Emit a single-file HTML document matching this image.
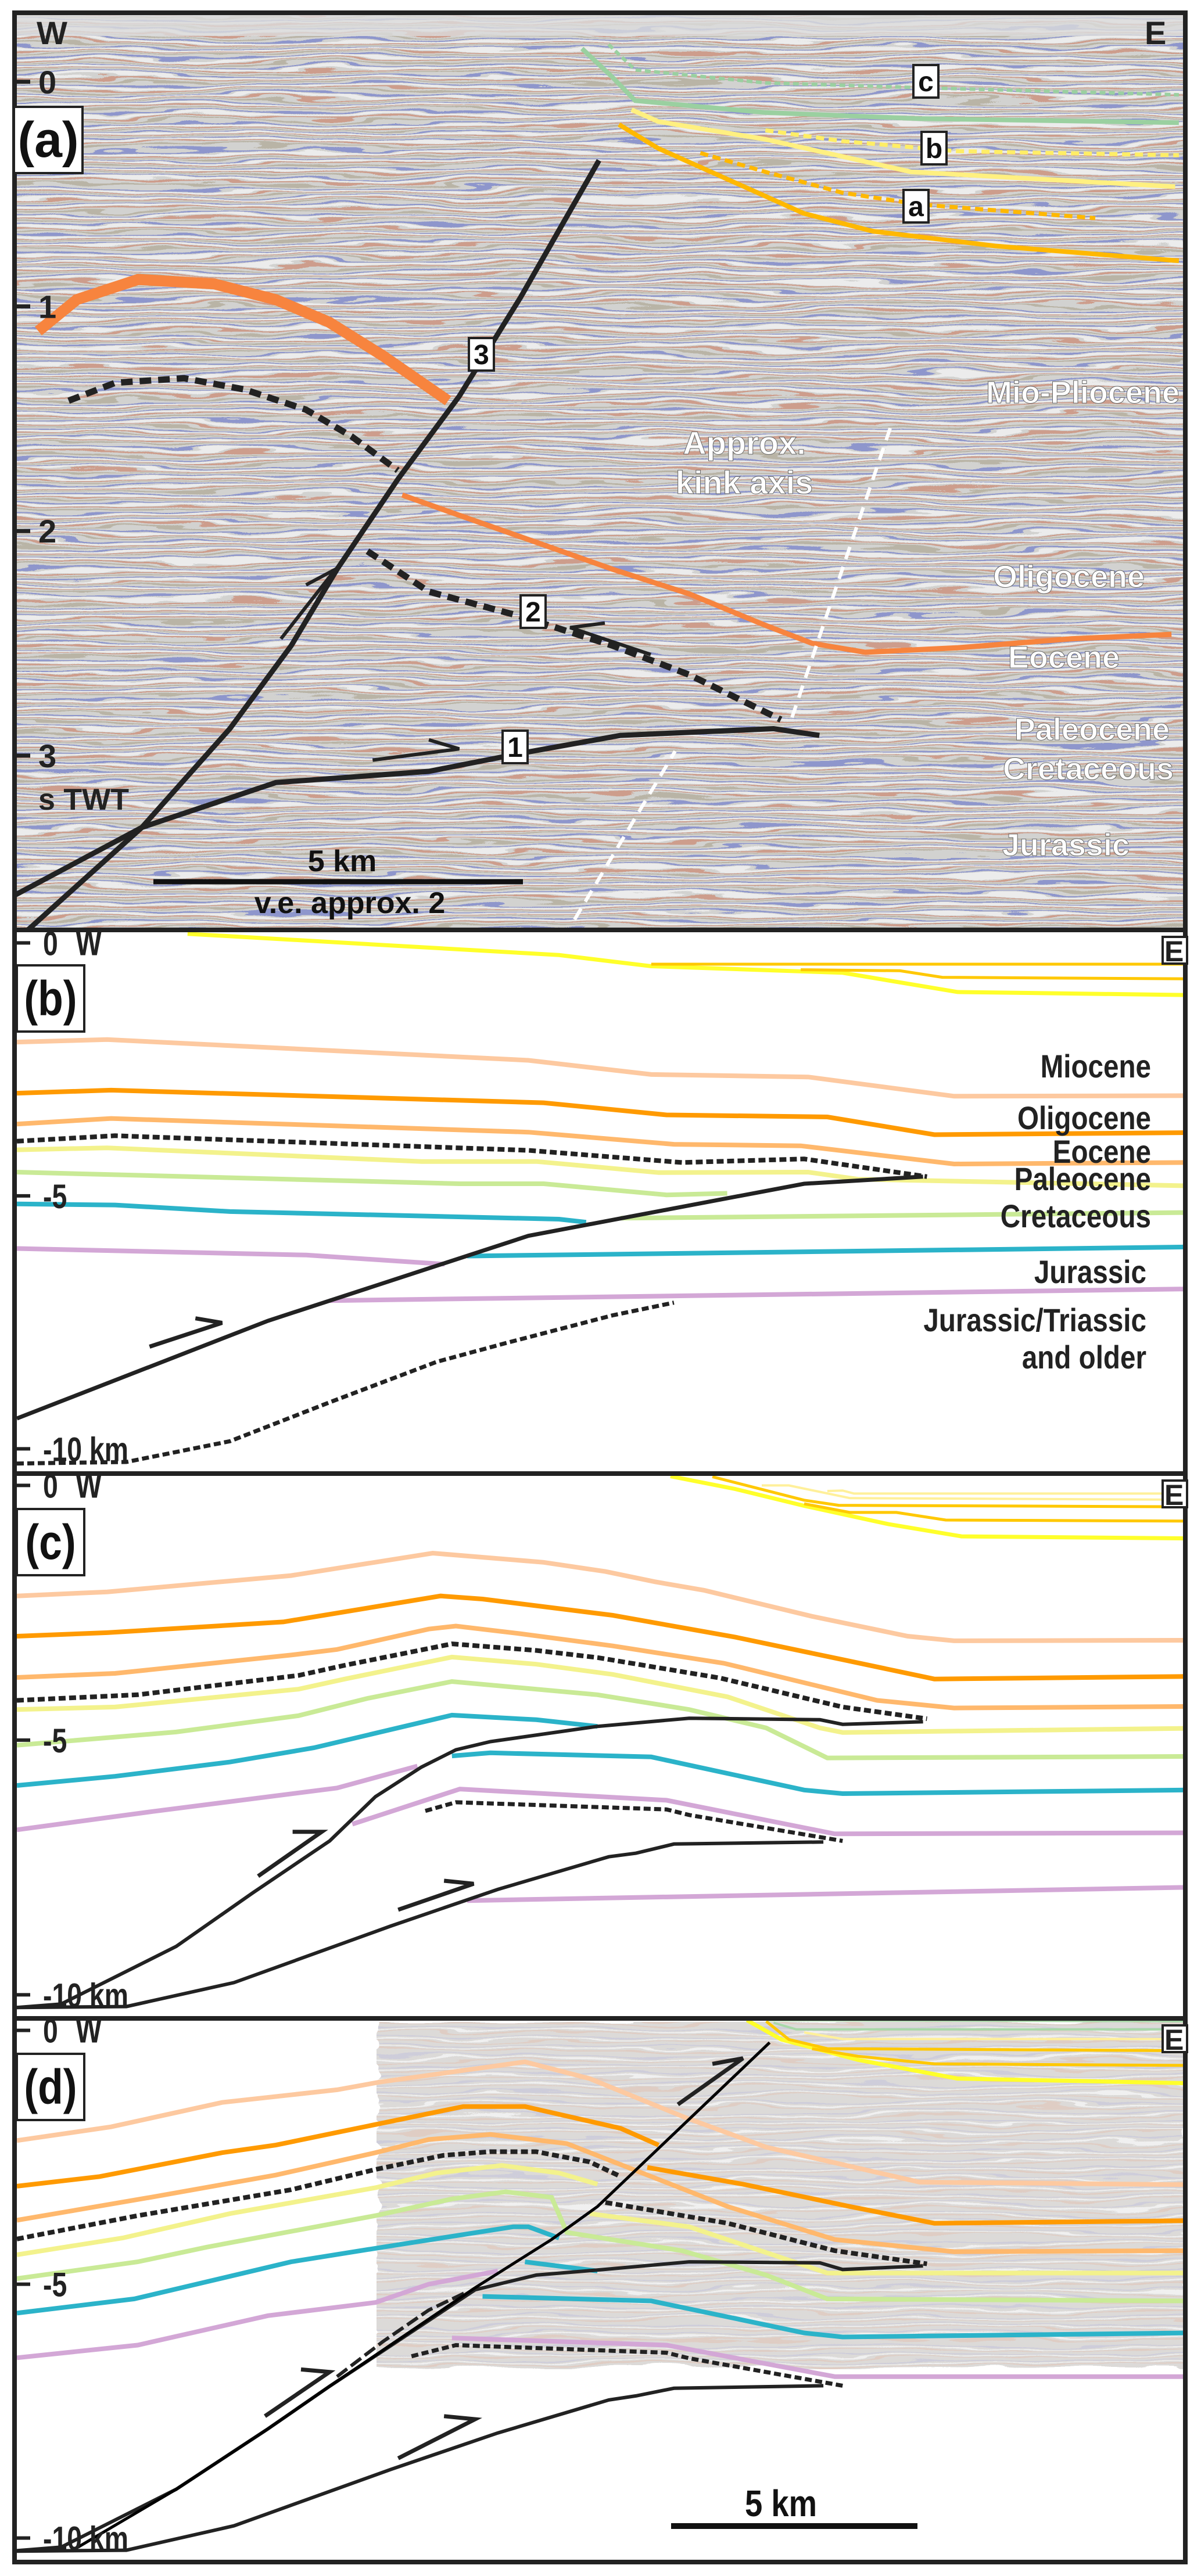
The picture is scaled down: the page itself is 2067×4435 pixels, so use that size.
<!DOCTYPE html>
<html><head><meta charset="utf-8"><style>
html,body{margin:0;padding:0;background:#fff}
svg{display:block}
text{font-family:"Liberation Sans",sans-serif;font-weight:bold}
</style></head><body>
<svg id="fig" width="2067" height="4435" viewBox="0 0 2067 4435" xmlns="http://www.w3.org/2000/svg">
<defs>
<pattern id="seis" width="80" height="16" patternUnits="userSpaceOnUse">
<rect width="80" height="16" fill="#d2d2d0"/>
<rect y="1" width="80" height="2" fill="#5564c8" opacity="0.55"/>
<rect y="4" width="80" height="3" fill="#ececec"/>
<rect y="8" width="80" height="2" fill="#c86848" opacity="0.5"/>
<rect y="12" width="80" height="2" fill="#8a7a58" opacity="0.35"/>
</pattern>
<pattern id="seis2" width="80" height="16" patternUnits="userSpaceOnUse">
<rect width="80" height="16" fill="#dcdad8"/>
<rect y="2" width="80" height="2" fill="#c0c0dc" opacity="0.5"/>
<rect y="6" width="80" height="2" fill="#f0f0f0"/>
<rect y="10" width="80" height="2" fill="#e2c0b0" opacity="0.5"/>
</pattern>
<filter id="wav" x="0" y="0" width="1" height="1">
<feTurbulence type="fractalNoise" baseFrequency="0.004 0.035" numOctaves="3" seed="4" result="n"/>
<feDisplacementMap in="SourceGraphic" in2="n" scale="28" xChannelSelector="R" yChannelSelector="G"/>
</filter>
<clipPath id="clipA"><rect x="25" y="22" width="2015" height="1579"/></clipPath>
</defs>
<g id="panelA" clip-path="url(#clipA)">
<rect x="0" y="0" width="2067" height="1620" fill="url(#seis)" filter="url(#wav)"/>
<rect x="25" y="22" width="2015" height="40" fill="#dcdcdc" opacity="0.8"/>
</g>
<rect x="648" y="3481" width="1392" height="598" fill="url(#seis2)" filter="url(#wav)"/>
<g id="marks"></g>
<g id="frame" fill="none" stroke="#222" stroke-width="8">
<rect x="25" y="22" width="2015" height="4389"/>
<line x1="25" y1="1601" x2="2040" y2="1601"/>
<line x1="25" y1="2537" x2="2040" y2="2537"/>
<line x1="25" y1="3475" x2="2040" y2="3475"/>
</g>
<g id="labels"></g>
</svg>
<script>
// ---------- Panel A data (x: km, y: s TWT) ----------
const aOrange1=[[0.29,1.11],[0.81,0.97],[1.64,0.88],[2.67,0.9],[3.5,0.97],[4.22,1.07],[4.95,1.22],[5.83,1.42]];
const aOrange2=[[5.21,1.84],[5.98,1.93],[7.02,2.05],[8.05,2.17],[9.09,2.28],[10.12,2.42],[10.75,2.5],[11.47,2.54],[12.71,2.52],[14.26,2.48],[15.61,2.46]];
const aDash1=[[0.7,1.42],[1.33,1.34],[2.26,1.32],[3.08,1.37],[3.91,1.46],[4.53,1.58],[5.15,1.73]];
const aDash2=[[4.74,2.09],[5.57,2.27],[6.81,2.38],[8.05,2.51],[9.09,2.64],[10.33,2.84]];
const aFault3=[[-0.02,3.62],[1.69,3.32],[2.88,2.88],[3.71,2.51],[4.33,2.17],[5.15,1.77],[5.98,1.4],[6.81,0.96],[7.87,0.35]];
const aFault1=[[-0.1,3.85],[1.69,3.32],[3.5,3.12],[5.57,3.07],[6.81,2.99],[8.16,2.91],[10.23,2.88],[10.85,2.91]];
const aGreenDot=[[8.0,-0.166],[8.36,-0.053],[10.12,0.005],[12.2,0.026],[15.71,0.058]];
const aGreen=[[7.64,-0.148],[8.05,-0.021],[8.36,0.084],[10.12,0.137],[12.2,0.164],[15.71,0.182]];
const aYellow=[[8.31,0.124],[8.67,0.177],[10.12,0.256],[12.09,0.401],[15.66,0.467]];
const aYellowDot=[[10.12,0.216],[11.16,0.264],[12.71,0.309],[15.71,0.327]];
const aGold=[[8.14,0.19],[8.67,0.296],[10.64,0.586],[11.57,0.665],[13.23,0.731],[15.71,0.797]];
const aGoldDot=[[9.24,0.317],[10.12,0.401],[11.16,0.494],[12.2,0.546],[14.58,0.607]];
const aKink1=[[7.54,3.73],[8.9,2.98]];
const aKink2=[[10.48,2.83],[11.83,1.52]];
const aArrows=[[[3.57,2.48],[4.31,2.17],[3.91,2.24]],[[4.81,3.02],[5.98,2.97],[5.57,2.93]],[[8.57,2.55],[7.48,2.43],[7.95,2.41]]];
const aTicks=[0,1,2,3];
// ---------- Panel B data (x: km, y: depth km) ----------
const bYellow=[[3.46,-0.18],[10.99,0.24],[12.86,0.46],[16.74,0.59],[19.07,0.97],[23.7,1.03]];
const bGold1=[[12.86,0.42],[23.7,0.42]];
const bGold2=[[15.89,0.53],[17.9,0.55],[18.76,0.68],[23.7,0.71]];
const bPeach=[[0,1.96],[1.83,1.91],[10.37,2.32],[12.86,2.6],[16.04,2.65],[19.0,3.03],[23.7,3.02]];
const bOrange=[[0,2.97],[1.91,2.91],[10.68,3.16],[13.17,3.4],[16.43,3.44],[18.6,3.79],[23.7,3.75]];
const bLtOrange=[[0,3.58],[1.91,3.47],[10.37,3.74],[13.32,3.98],[15.89,4.01],[19.0,4.37],[23.7,4.34]];
const bDash=[[0,3.92],[1.99,3.81],[10.37,4.1],[13.48,4.34],[15.96,4.27],[18.45,4.62]];
const bLtYellow=[[0,4.09],[1.83,4.05],[8.2,4.32],[10.53,4.32],[13.01,4.54],[16.04,4.53],[17.05,4.67],[23.7,4.8]];
const bGreen1=[[0,4.53],[8.98,4.76],[10.68,4.76],[13.17,4.98],[14.4,4.95]];
const bGreen2=[[12.24,5.44],[23.7,5.33]];
const bCyan1=[[0,5.16],[1.99,5.18],[4.32,5.31],[10.99,5.46],[11.54,5.52]];
const bCyan2=[[9.13,6.19],[23.7,6.01]];
const bPurple1=[[0,6.04],[5.87,6.17],[8.67,6.35]];
const bPurple2=[[6.34,7.07],[23.7,6.84]];
const bFault=[[0,9.4],[5.09,7.47],[10.37,5.79],[15.96,4.76],[18.37,4.62]];
const bDashLow=[[0,10.29],[2.22,10.26],[4.32,9.85],[6.34,9.08],[8.51,8.28],[9.91,7.91],[12.08,7.36],[13.32,7.11]];
const bArrows=[[[2.69,7.98],[4.16,7.51],[3.62,7.42]]];
// ---------- Panel C data ----------
const cYellow=[[13.25,-0.18],[14.56,0.07],[15.96,0.4],[17.67,0.76],[19.15,1.0],[23.7,1.04]];
const cGold1=[[14.1,-0.17],[15.96,0.29],[16.66,0.39],[23.7,0.42]];
const cGold2=[[15.96,0.36],[16.89,0.53],[17.83,0.53],[18.83,0.68],[23.7,0.7]];
const cLtY1=[[15.1,0],[15.65,0],[16.89,0.25],[23.7,0.28]];
const cLtY2=[[16.43,0.11],[16.74,0.1],[16.97,0.16],[23.7,0.16]];
const cPeach=[[0,2.17],[1.83,2.09],[5.56,1.77],[8.43,1.33],[10.68,1.51],[11.93,1.69],[12.93,1.89],[13.94,2.06],[16.12,2.57],[18.06,2.96],[19.0,3.05],[23.7,3.04]];
const cOrange=[[0,2.96],[1.83,2.89],[5.4,2.68],[8.59,2.17],[9.44,2.23],[12.08,2.55],[14.57,2.98],[16.74,3.42],[18.6,3.8],[23.7,3.75]];
const cLtOrange=[[0,3.77],[1.99,3.69],[5.56,3.33],[6.49,3.22],[8.35,2.82],[8.9,2.76],[10.2,2.91],[12.08,3.15],[14.33,3.49],[17.44,4.22],[19.0,4.37],[23.7,4.34]];
const cDash=[[0,4.22],[2.45,4.11],[5.71,3.73],[6.65,3.53],[8.82,3.11],[10.53,3.24],[11.77,3.38],[14.25,3.78],[16.74,4.35],[18.45,4.58]];
const cLtYellow=[[0,4.4],[1.99,4.35],[5.71,4.0],[6.65,3.8],[8.82,3.37],[10.53,3.51],[12.08,3.71],[14.41,4.15],[16.28,4.76],[16.74,4.85],[23.7,4.77]];
const cGreen=[[0,5.1],[3.23,4.84],[5.71,4.52],[7.11,4.18],[8.82,3.85],[11.77,4.11],[13.63,4.4],[15.19,4.76],[16.43,5.35],[23.7,5.32]];
const cCyan1=[[0,5.89],[1.99,5.71],[4.32,5.43],[6.02,5.15],[8.82,4.51],[10.53,4.6],[11.77,4.73]];
const cCyan2=[[8.82,5.31],[9.6,5.25],[12.86,5.33],[15.96,5.98],[16.74,6.05],[23.7,5.98]];
const cPurple1=[[0,6.76],[2.76,6.4],[6.49,5.94],[8.12,5.51]];
const cPurple2=[[6.8,6.65],[8.98,5.96],[13.17,6.18],[16.58,6.84],[23.7,6.82]];
const cPurple3=[[9.13,8.15],[23.7,7.89]];
const cFaultUp=[[0,10.25],[0.9,10.18],[3.23,9.05],[4.78,8.0],[6.34,6.98],[7.27,6.11],[8.2,5.53],[8.9,5.19],[9.6,5.03],[11.77,4.73],[13.63,4.57],[16.28,4.6],[16.74,4.69],[18.37,4.64]];
const cFaultLow=[[0,10.25],[2.22,10.23],[4.4,9.76],[7.58,8.65],[9.75,7.93],[12.0,7.29],[12.55,7.22],[13.32,7.04],[16.35,7.0]];
const cDashLow=[[8.28,6.39],[8.9,6.22],[13.17,6.36],[13.63,6.47],[16.74,6.98]];
const cArrows=[[[4.89,7.67],[6.18,6.8],[5.59,6.8]],[[7.73,8.33],[9.26,7.82],[8.66,7.76]]];
// ---------- Panel D data ----------
const dYellow=[[14.8,-0.2],[15.5,0.18],[17.05,0.58],[19.07,0.95],[23.7,1.04]];
const dGold1=[[15.19,-0.18],[15.65,0.18],[16.43,0.36],[23.7,0.4]];
const dGold2=[[16.12,0.36],[17.05,0.51],[18.6,0.66],[23.7,0.69]];
const dLtY=[[15.96,0.04],[16.74,0.17],[23.7,0.17]];
const dGreenTop1=[[15.34,-0.15],[15.8,-0.02],[23.7,-0.02]];
const dGreenTop2=[[15.2,-0.2],[23.7,-0.18]];
const dPeach=[[0,2.17],[1.91,1.9],[4.16,1.42],[6.49,1.17],[7.35,1.02],[10.3,0.62],[11.61,0.95],[13.56,1.72],[15.19,2.3],[18.3,2.99],[23.7,3.04]];
const dOrange1=[[0,3.07],[1.68,2.88],[4.16,2.41],[5.25,2.26],[6.49,2.01],[9.05,1.5],[10.3,1.5],[12.24,1.93],[13.01,2.26]];
const dOrange2=[[12.78,2.7],[14.72,3.03],[16.89,3.47],[18.6,3.8],[23.7,3.75]];
const dLtOrange=[[0,3.74],[2.76,3.28],[5.25,2.85],[7.27,2.41],[8.35,2.15],[9.6,2.05],[11.15,2.23],[12.39,2.7],[14.41,3.47],[16.58,4.12],[19.0,4.36],[23.7,4.34]];
const dDash1=[[0,4.11],[2.45,3.65],[5.56,3.14],[7.27,2.74],[8.66,2.46],[9.6,2.39],[10.53,2.39],[11.61,2.59],[12.24,2.88]];
const dDash2=[[11.93,3.39],[14.41,3.8],[16.58,4.34],[18.45,4.6]];
const dLtYellow1=[[0,4.42],[2.14,4.09],[4.32,3.61],[7.27,3.1],[8.51,2.81],[9.83,2.66],[10.99,2.81],[11.77,3.03]];
const dLtYellow2=[[11.61,3.61],[13.63,3.87],[16.43,4.78],[23.7,4.78]];
const dGreen=[[0,4.89],[2.45,4.56],[3.85,4.27],[7.27,3.65],[8.82,3.32],[9.91,3.18],[10.84,3.29],[11.15,3.98],[13.48,4.34],[15.19,4.82],[16.43,5.29],[23.7,5.33]];
const dCyan1=[[0,5.57],[2.38,5.29],[5.56,4.56],[7.42,4.27],[10.06,3.87],[10.37,3.87],[10.99,4.09]];
const dCyan1b=[[10.3,4.56],[11.77,4.74]];
const dCyan2=[[9.44,5.24],[12.86,5.33],[15.96,5.96],[16.74,6.04],[23.7,5.96]];
const dPurple1=[[0,6.45],[2.45,6.2],[5.09,5.62],[7.27,5.36],[8.35,5.0],[9.75,4.74]];
const dPurple2=[[8.82,6.06],[13.17,6.2],[16.58,6.82],[23.7,6.82]];
const dThinFault=[[1.24,10.18],[3.23,9.04],[5.09,7.85],[6.34,7.01],[9.29,5.07],[10.84,4.12],[11.77,3.47],[15.26,0.24]];
const dFaultUp=[[0,10.25],[0.9,10.18],[3.23,9.04],[5.09,7.85],[6.34,7.01],[9.29,5.11],[10.53,4.82],[11.9,4.71],[13.63,4.56],[16.28,4.58],[16.74,4.71],[18.37,4.64]];
const dDashThrust=[[6.49,6.82],[7.42,6.13],[8.35,5.51],[9.13,5.15]];
const dFaultLow=[[0,10.26],[2.22,10.24],[4.4,9.76],[7.58,8.65],[9.75,7.93],[12.0,7.28],[12.55,7.2],[13.32,7.05],[16.35,7.0]];
const dDashLow=[[8.0,6.42],[8.9,6.2],[13.17,6.35],[13.63,6.46],[16.74,7.0]];
const dArrows=[[[5.03,7.6],[6.34,6.73],[5.76,6.68]],[[7.73,8.43],[9.29,7.66],[8.66,7.6]],[[13.4,1.46],[14.72,0.55],[14.1,0.66]]];
const depthTicks=[0,-5,-10];

// ---------- axis functions ----------
const axA={x:k=>29+k*127.3, y:t=>140.8+t*386.7};
const axB={x:k=>29+k*84.9, y:d=>1623.4+d*87.1};
const axC={x:k=>29+k*84.9, y:d=>2557.4+d*87.7};
const axD={x:k=>29+k*84.9, y:d=>3495.6+d*87.4};

const NS='http://www.w3.org/2000/svg';
const marks=document.getElementById('marks');
const labels=document.getElementById('labels');
const C={peach:'#fdc9a0',orange:'#ff9a00',ltorange:'#ffb86c',ltyellow:'#f3f28c',green:'#c9ea96',cyan:'#2bb3c9',purple:'#d3a7d6',yellow:'#ffff2a',gold:'#ffc800',black:'#222'};

function line(ax,pts,color,w,dash,name,clip){
  const p=document.createElementNS(NS,'polyline');
  p.setAttribute('points',pts.map(q=>ax.x(q[0]).toFixed(1)+','+ax.y(q[1]).toFixed(1)).join(' '));
  p.setAttribute('fill','none');
  p.setAttribute('stroke',color);
  p.setAttribute('stroke-width',w);
  p.setAttribute('stroke-linejoin','miter');
  if(dash)p.setAttribute('stroke-dasharray',dash);
  if(clip)p.setAttribute('clip-path','url(#clipA)');
  
  
  marks.appendChild(p);
  return p;
}
function txt(x,y,s,size,anchor,fill,name,extra){
  const t=document.createElementNS(NS,'text');
  t.setAttribute('x',x);t.setAttribute('y',y);
  t.setAttribute('font-size',size);
  t.setAttribute('text-anchor',anchor||'start');
  t.setAttribute('fill',fill||'#222');
  if(extra)for(const k in extra)t.setAttribute(k,extra[k]);
  t.textContent=s;
  
  
  labels.appendChild(t);
  return t;
}
function box(x,y,w,h,name,sw){
  const r=document.createElementNS(NS,'rect');
  r.setAttribute('x',x);r.setAttribute('y',y);r.setAttribute('width',w);r.setAttribute('height',h);
  r.setAttribute('fill','#fff');r.setAttribute('stroke','#222');r.setAttribute('stroke-width',sw||4);
  
  
  labels.appendChild(r);
}
function seg(x1,y1,x2,y2,w,color,name){
  const l=document.createElementNS(NS,'line');
  l.setAttribute('x1',x1);l.setAttribute('y1',y1);l.setAttribute('x2',x2);l.setAttribute('y2',y2);
  l.setAttribute('stroke',color||'#222');l.setAttribute('stroke-width',w);
  
  
  labels.appendChild(l);
}

// ---------- Panel A ----------
line(axA,aOrange1,'#f7843e',19,null,'horizon-eocene-west',true);
line(axA,aOrange2,'#f7843e',9,null,'horizon-eocene-east',true);
line(axA,aDash1,C.black,11,'20 12','horizon-dashed-west',true);
line(axA,aDash2,C.black,11,'20 12','fault-2-dashed',true);
line(axA,aGreenDot,'#9ad0a0',6,'10 6','horizon-c-dotted',true);
line(axA,aGreen,'#9ad0a0',8,null,'horizon-green',true);
line(axA,aYellowDot,'#ffee66',7,'14 8','horizon-b-dotted',true);
line(axA,aYellow,'#fff080',8,null,'horizon-yellow',true);
line(axA,aGoldDot,'#ffb800',7,'14 8','horizon-a-dotted',true);
line(axA,aGold,'#ffb800',8,null,'horizon-gold',true);
line(axA,aKink1,'#fff',6,'22 14','kink-axis-lower',true);
line(axA,aKink2,'#fff',6,'22 14','kink-axis-upper',true);
line(axA,aFault3,C.black,9,null,'fault-3',true);
line(axA,aFault1,C.black,9,null,'fault-1',true);
aArrows.forEach((a,i)=>line(axA,[a[2],a[1],a[0]],C.black,6,null,'slip-arrow-a-'+(i+1),true));
aTicks.forEach(t=>{seg(25,axA.y(t),52,axA.y(t),7,'#222','tick-twt-'+t);txt(66,axA.y(t)+20,String(t),56,'start','#222','tick-label-twt-'+t);});
txt(66,1394,'s TWT',52,'start','#222','y-axis-title-twt');
txt(63,76,'W',56,'start','#222','west-label-a');
txt(1970,76,'E',56,'start','#222','east-label-a');
box(24,184,118,114,'panel-label-box-a');
txt(83,270,'(a)',86,'middle','#111','panel-label-a');
[['3',807,582,'fault-number-3'],['2',896,1025,'fault-number-2'],['1',865,1258,'fault-number-1'],['c',1572,112,'horizon-label-c'],['b',1586,227,'horizon-label-b'],['a',1555,327,'horizon-label-a']].forEach(b=>{box(b[1],b[2],43,56,b[3]+'-box',4);txt(b[1]+21.5,b[2]+45,b[0],48,'middle','#111',b[3]);});
const wtxt={stroke:'#666','stroke-width':'1'};
txt(1281,782,'Approx.',56,'middle','#fff','kink-axis-label-line1',wtxt);
txt(1281,850,'kink axis',56,'middle','#fff','kink-axis-label-line2',wtxt);
txt(2030,694,'Mio-Pliocene',54,'end','#fff','unit-label-mio-pliocene',wtxt);
txt(1970,1011,'Oligocene',54,'end','#fff','unit-label-oligocene-a',wtxt);
txt(1927,1150,'Eocene',54,'end','#fff','unit-label-eocene-a',wtxt);
txt(2013,1274,'Paleocene',54,'end','#fff','unit-label-paleocene-a',wtxt);
txt(2020,1342,'Cretaceous',54,'end','#fff','unit-label-cretaceous-a',wtxt);
txt(1944,1473,'Jurassic',54,'end','#fff','unit-label-jurassic-a',wtxt);
seg(264,1518,900,1518,9,'#111','scale-bar-a');
txt(589,1500,'5 km',52,'middle','#111','scale-label-a');
txt(602,1572,'v.e. approx. 2',52,'middle','#111','vertical-exaggeration-label');

// ---------- Panels B, C, D ----------
function depthAxis(ax,top,p){
  depthTicks.forEach(d=>{
    const y=ax.y(-d);
    seg(27,y,52,y,6,'#222','tick-depth-'+p+'-'+Math.abs(d));
    const lab=d===0?'0':(d===-10?'-10 km':String(d));
    txt(74,y+21,lab,58,'start','#222','tick-label-depth-'+p+'-'+Math.abs(d),{'transform':'translate(74,'+(y+21)+') scale(0.8,1) translate(-74,'+(-(y+21))+')'});
  });
  txt(130,ax.y(0)+21,'W',64,'start','#222','west-label-'+p,{'font-weight':'normal','transform':'translate(130,'+(ax.y(0)+21)+') scale(0.75,1) translate(-130,'+(-(ax.y(0)+21))+')'});
  box(2001,top+12,42,46,'east-box-'+p,4);
  txt(2004,top+54,'E',50,'start','#222','east-label-'+p,{'font-weight':'normal'});
  box(29,top+61,116,114,'panel-label-box-'+p,4);
  txt(87,top+147,'('+p+')',84,'middle','#111','panel-label-'+p,{'transform':'translate(87,'+(top+147)+') scale(0.85,1) translate(-87,'+(-(top+147))+')'});
}
// B
line(axB,bYellow,C.yellow,7,null,'b-horizon-yellow');
line(axB,bGold1,C.gold,5,null,'b-horizon-gold-1');
line(axB,bGold2,C.gold,5,null,'b-horizon-gold-2');
line(axB,bPeach,C.peach,8,null,'b-horizon-miocene-top');
line(axB,bOrange,C.orange,8,null,'b-horizon-oligocene-top');
line(axB,bLtOrange,C.ltorange,8,null,'b-horizon-eocene-top');
line(axB,bLtYellow,C.ltyellow,8,null,'b-horizon-paleocene-top');
line(axB,bGreen1,C.green,8,null,'b-horizon-cretaceous-top-west');
line(axB,bGreen2,C.green,8,null,'b-horizon-cretaceous-top-east');
line(axB,bCyan1,C.cyan,8,null,'b-horizon-jurassic-top-west');
line(axB,bCyan2,C.cyan,8,null,'b-horizon-jurassic-top-east');
line(axB,bPurple1,C.purple,8,null,'b-horizon-triassic-top-west');
line(axB,bPurple2,C.purple,8,null,'b-horizon-triassic-top-east');
line(axB,bDash,C.black,8,'12 6','b-dashed-detachment');
line(axB,bDashLow,C.black,7,'12 6','b-dashed-lower-fault');
line(axB,bFault,C.black,7,null,'b-thrust-fault');
bArrows.forEach((a,i)=>line(axB,[a[2],a[1],a[0]],C.black,7,null,'b-slip-arrow-'+(i+1)));
depthAxis(axB,1601,'b');
[['Miocene',1855],['Oligocene',1944],['Eocene',2002],['Paleocene',2049],['Cretaceous',2113]].forEach(l=>txt(1981,l[1],l[0],56,'end','#222','b-unit-label-'+l[0].toLowerCase(),{'transform':'translate(1981,'+l[1]+') scale(0.85,1) translate(-1981,'+(-l[1])+')'}));
[['Jurassic',2209,'jurassic'],['Jurassic/Triassic',2292,'jurassic-triassic'],['and older',2356,'and-older']].forEach(l=>txt(1973,l[1],l[0],56,'end','#222','b-unit-label-'+l[2],{'transform':'translate(1973,'+l[1]+') scale(0.85,1) translate(-1973,'+(-l[1])+')'}));
// C
line(axC,cYellow,C.yellow,7,null,'c-horizon-yellow');
line(axC,cGold1,C.gold,5,null,'c-horizon-gold-1');
line(axC,cGold2,C.gold,5,null,'c-horizon-gold-2');
line(axC,cLtY1,'#fff09a',4,null,'c-horizon-light-1');
line(axC,cLtY2,'#fff09a',4,null,'c-horizon-light-2');
line(axC,cPeach,C.peach,8,null,'c-horizon-miocene-top');
line(axC,cOrange,C.orange,8,null,'c-horizon-oligocene-top');
line(axC,cLtOrange,C.ltorange,8,null,'c-horizon-eocene-top');
line(axC,cLtYellow,C.ltyellow,8,null,'c-horizon-paleocene-top');
line(axC,cGreen,C.green,8,null,'c-horizon-cretaceous-top');
line(axC,cCyan1,C.cyan,8,null,'c-horizon-jurassic-top-hanging');
line(axC,cCyan2,C.cyan,8,null,'c-horizon-jurassic-top-foot');
line(axC,cPurple1,C.purple,8,null,'c-horizon-triassic-west');
line(axC,cPurple2,C.purple,8,null,'c-horizon-triassic-middle');
line(axC,cPurple3,C.purple,8,null,'c-horizon-triassic-lower');
line(axC,cDash,C.black,8,'12 6','c-dashed-detachment');
line(axC,cDashLow,C.black,7,'12 6','c-dashed-lower');
line(axC,cFaultUp,C.black,6,null,'c-thrust-upper');
line(axC,cFaultLow,C.black,6,null,'c-thrust-lower');
cArrows.forEach((a,i)=>line(axC,[a[2],a[1],a[0]],C.black,7,null,'c-slip-arrow-'+(i+1)));
depthAxis(axC,2537,'c');
// D
line(axD,dGreenTop2,'#a8d8a8',4,null,'d-horizon-green-top-1');
line(axD,dGreenTop1,'#a8d8a8',4,null,'d-horizon-green-top-2');
line(axD,dLtY,'#fff09a',4,null,'d-horizon-light');
line(axD,dYellow,C.yellow,7,null,'d-horizon-yellow');
line(axD,dGold1,C.gold,5,null,'d-horizon-gold-1');
line(axD,dGold2,C.gold,5,null,'d-horizon-gold-2');
line(axD,dPeach,C.peach,8,null,'d-horizon-miocene-top');
line(axD,dOrange1,C.orange,8,null,'d-horizon-oligocene-top-hanging');
line(axD,dOrange2,C.orange,8,null,'d-horizon-oligocene-top-foot');
line(axD,dLtOrange,C.ltorange,8,null,'d-horizon-eocene-top');
line(axD,dLtYellow1,C.ltyellow,8,null,'d-horizon-paleocene-top-hanging');
line(axD,dLtYellow2,C.ltyellow,8,null,'d-horizon-paleocene-top-foot');
line(axD,dGreen,C.green,8,null,'d-horizon-cretaceous-top');
line(axD,dCyan1,C.cyan,8,null,'d-horizon-jurassic-top-hanging');
line(axD,dCyan1b,C.cyan,8,null,'d-horizon-jurassic-top-sliver');
line(axD,dCyan2,C.cyan,8,null,'d-horizon-jurassic-top-foot');
line(axD,dPurple1,C.purple,8,null,'d-horizon-triassic-west');
line(axD,dPurple2,C.purple,8,null,'d-horizon-triassic-east');
line(axD,dDash1,C.black,8,'12 6','d-dashed-detachment-hanging');
line(axD,dDash2,C.black,8,'12 6','d-dashed-detachment-foot');
line(axD,dDashLow,C.black,7,'12 6','d-dashed-lower');
line(axD,dDashThrust,C.black,6,'22 8','d-dashed-thrust');
line(axD,dFaultUp,C.black,6,null,'d-thrust-upper');
line(axD,dThinFault,'#000',5,null,'d-out-of-sequence-fault');
line(axD,dFaultLow,C.black,6,null,'d-thrust-lower');
dArrows.forEach((a,i)=>line(axD,[a[2],a[1],a[0]],C.black,7,null,'d-slip-arrow-'+(i+1)));
depthAxis(axD,3475,'d');
seg(1155,4349,1579,4349,10,'#111','scale-bar-d');
txt(1344,4332,'5 km',64,'middle','#111','scale-label-d',{'transform':'translate(1344,4332) scale(0.85,1) translate(-1344,-4332)'});
</script>
</body></html>
